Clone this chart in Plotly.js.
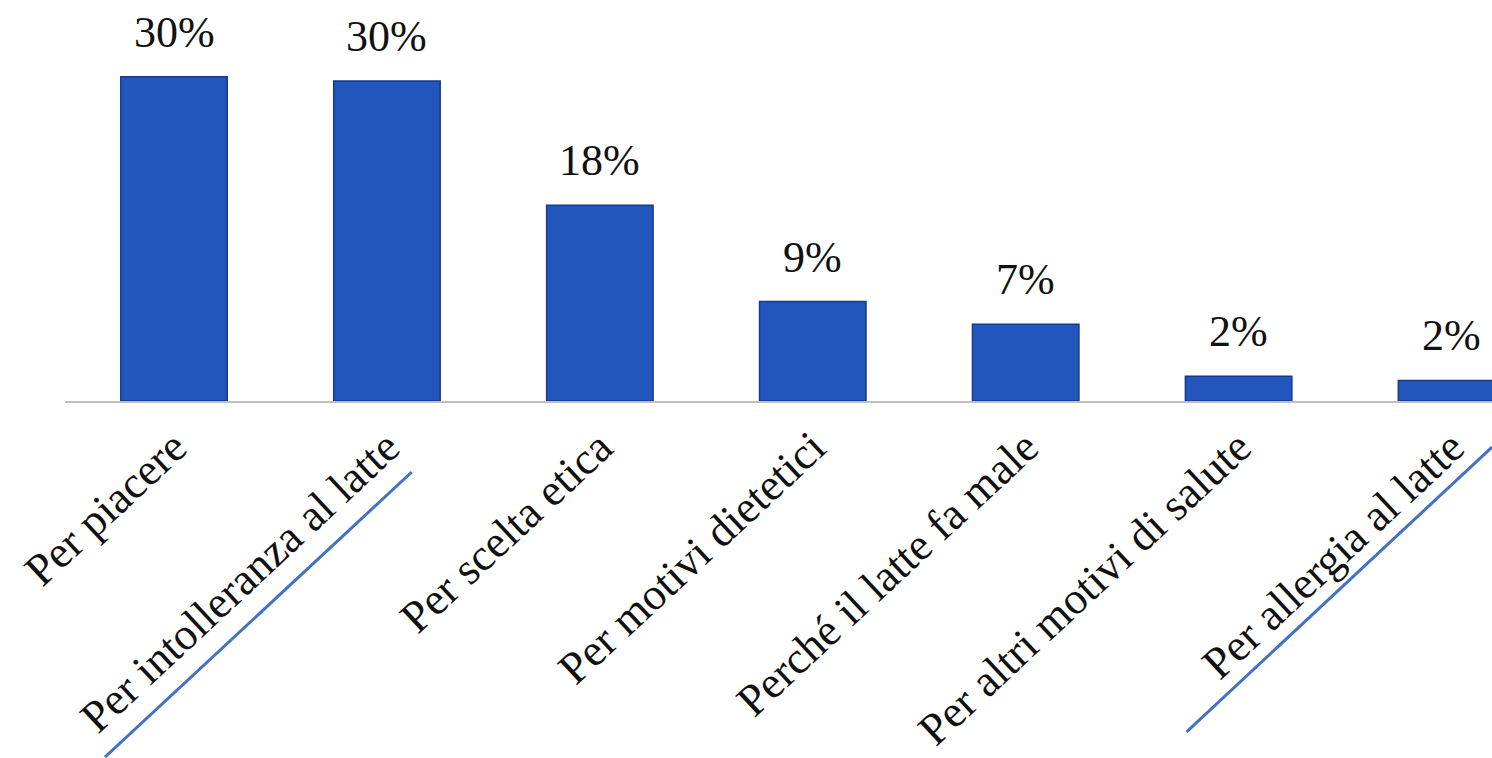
<!DOCTYPE html>
<html>
<head>
<meta charset="utf-8">
<script src="https://cdn.plot.ly/plotly-3.0.1.min.js"></script>
<style>html,body{margin:0;padding:0;background:#fff;}#chart{width:1492px;height:758px;}</style>
</head>
<body>
<div id="chart"></div>
<script>
const categories = [
  "Per piacere",
  "Per intolleranza al latte",
  "Per scelta etica",
  "Per motivi dietetici",
  "Perché il latte fa male",
  "Per altri motivi di salute",
  "Per allergia al latte"
];
const values = [30.0, 29.6, 18.1, 9.2, 7.1, 2.3, 1.9];
const valueLabels = ["30%", "30%", "18%", "9%", "7%", "2%", "2%"];

const serif = "Liberation Serif, Times New Roman, serif";

const trace = {
  type: "bar",
  x: categories,
  y: values,
  marker: {color: "#2356bc", line: {color: "#173a8c", width: 1.5}},
  hoverinfo: "skip"
};

const annotations = categories.map((c, i) => ({
  x: c, y: values[i], xref: "x", yref: "y",
  text: valueLabels[i], showarrow: false,
  yanchor: "bottom", yshift: 18,
  font: {family: serif, size: 44, color: "#111"}
}));

const layout = {
  width: 1492, height: 758,
  margin: {l: 65, r: 0, t: 0, b: 357},
  paper_bgcolor: "#fff", plot_bgcolor: "#fff",
  showlegend: false,
  bargap: 0.5,
  xaxis: {
    range: [-0.512, 6.19], fixedrange: true,
    showline: true, linecolor: "#bfbfbf", linewidth: 2,
    showgrid: false, zeroline: false, ticks: "",
    tickangle: -43,
    tickfont: {family: serif, size: 45, color: "#111"}
  },
  yaxis: {
    range: [0, 37.1], visible: false, showgrid: false, zeroline: false, fixedrange: true
  },
  annotations: annotations,
  shapes: [
    {type: "line", xref: "paper", yref: "paper", x0: 0.028, y0: -0.888, x1: 0.243, y1: -0.177,
     line: {color: "#4472c4", width: 3}},
    {type: "line", xref: "paper", yref: "paper", x0: 0.786, y0: -0.825, x1: 1.0, y1: -0.115,
     line: {color: "#4472c4", width: 3}}
  ]
};

Plotly.newPlot("chart", [trace], layout, {displayModeBar: false, staticPlot: true});
</script>
</body>
</html>
